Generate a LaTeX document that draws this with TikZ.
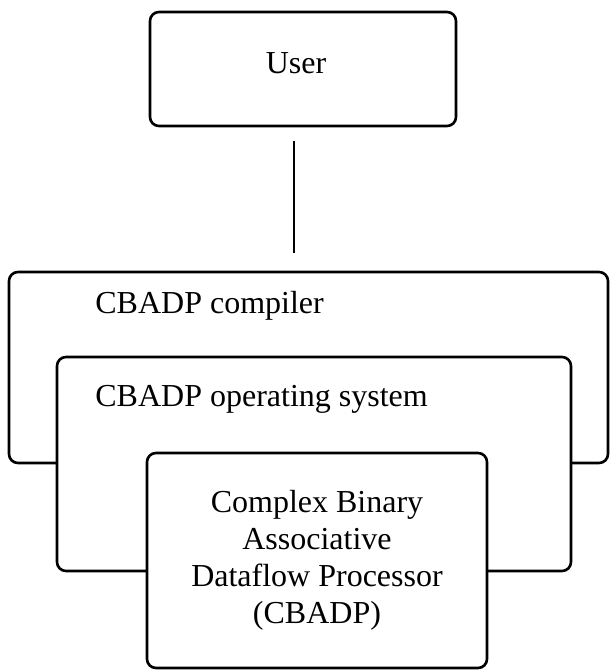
\documentclass[tikz,border=0pt]{standalone}
\usepackage{fontspec}
\setmainfont{Liberation Serif}
\begin{document}
\begin{tikzpicture}[x=0.5pt, y=-0.5pt,
    layer/.style={draw, line width=1.3pt, rounded corners=4.5pt, fill=white, inner sep=0pt},
    txt/.style={font=\fontsize{16}{18.5}\selectfont, inner sep=0pt}]
    \useasboundingbox (0,0) rectangle (610,671);

    % user box at the top
    \node[layer, minimum width=153pt, minimum height=57pt] (user) at (303,69) {};
    \node[txt, anchor=base] (usertxt) at (296,73) {User};

    % nested layers, outer one first so the inner ones cover it
    \node[layer, minimum width=299.5pt, minimum height=95.5pt] (compiler) at (308.5,367.5) {};
    \node[txt, anchor=base west] (compilertxt) at (95,313) {CBADP compiler};

    \node[layer, minimum width=257pt, minimum height=107pt] (os) at (314,464) {};
    \node[txt, anchor=base west] (ostxt) at (95,406) {CBADP operating system};

    % processor in the middle
    \node[layer, txt, align=center, minimum width=170pt, minimum height=107.5pt] (cbadp) at (317,560.5)
        {Complex Binary\\Associative\\Dataflow Processor\\(CBADP)};

    % line from user down to the compiler
    \draw[line width=1.3pt, shorten <=7pt, shorten >=9pt]
        ([xshift=-4.5pt]user.south) -- ([xshift=-4.5pt]user.south |- compiler.north);
\end{tikzpicture}
\end{document}
